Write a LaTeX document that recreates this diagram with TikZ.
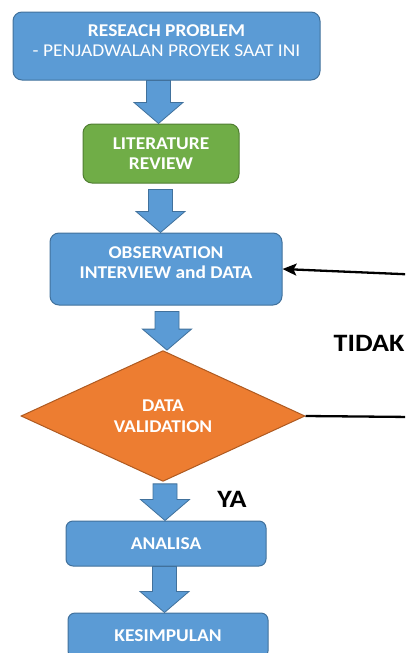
\documentclass[tikz,border=0pt]{standalone}
\usepackage{fontspec}
\setmainfont{Carlito}[FakeStretch=1.08]
\newfontfamily\lblfont{Carlito}[FakeStretch=1.12]
\usepackage{tikz}
\usetikzlibrary{shapes.geometric, arrows.meta, positioning, calc}
\definecolor{boxblue}{HTML}{5B9BD5}
\definecolor{boxblueline}{HTML}{41719C}
\definecolor{boxgreen}{HTML}{70AD47}
\definecolor{boxgreenline}{HTML}{507E32}
\definecolor{boxorange}{HTML}{ED7D31}
\definecolor{boxorangeline}{HTML}{AE5A21}

% block arrow: #1 = x centre, #2 = gap below source, #3 = source, #4 = target
\newcommand{\blockarrow}[4]{%
  \path[blockarr] let \p1=(#3.south), \p2=(#4.north) in
    (#1pt-12pt,\y1-#2pt) -- (#1pt+12pt,\y1-#2pt) -- (#1pt+12pt,\y2+21pt)
    -- (#1pt+24.5pt,\y2+21pt) -- (#1pt,\y2) -- (#1pt-24.5pt,\y2+21pt)
    -- (#1pt-12pt,\y2+21pt) -- cycle;}

\begin{document}
\begin{tikzpicture}[
  x=1pt, y=-1pt,
  box/.style={draw=boxblueline, fill=boxblue, line width=1pt, rounded corners=9pt,
              align=center, text=white, inner sep=0pt,
              font=\bfseries\fontsize{18}{20}\selectfont},
  litbox/.style={box, fill=boxgreen, draw=boxgreenline},
  decision/.style={diamond, draw=boxorangeline, fill=boxorange, line width=1pt,
              align=center, text=white, inner sep=0pt,
              font=\bfseries\fontsize{18}{20.5}\selectfont},
  blockarr/.style={fill=boxblue, draw=boxblueline, line width=0.8pt, line join=miter},
  lbl/.style={font=\lblfont\bfseries\fontsize{25}{27}\selectfont, inner sep=0pt},
  feedback/.style={-{Stealth[length=14pt,width=12pt,inset=3pt]}, line width=2.3pt, draw=black}
]
\useasboundingbox (0,0) rectangle (405,653);
\clip (0,0) rectangle (405,653);

\node[box, minimum width=307pt, minimum height=68pt, text depth=11pt] (problem) at (166.5,46)
  {RESEACH PROBLEM\\\mdseries - PENJADWALAN PROYEK SAAT INI};
\node[litbox, minimum width=156pt, minimum height=59pt] (literature) at (161,153.5)
  {LITERATURE\\REVIEW};
\node[box, minimum width=232pt, minimum height=72pt, text depth=13pt] (observation) at (166,269)
  {OBSERVATION\\INTERVIEW and DATA};
\node[decision, minimum width=284pt, minimum height=120pt] (validation) at (163,416)
  {DATA\\VALIDATION};
\node[box, rounded corners=7pt, minimum width=200pt, minimum height=45pt] (analisa) at (166,543.5)
  {ANALISA};
\node[box, rounded corners=7pt, minimum width=200pt, minimum height=45pt] (kesimpulan) at (168,635.5)
  {KESIMPULAN};

\node[lbl, anchor=east] (tidak) at (404.5,343) {TIDAK};
\node[lbl] (ya) at (232,499) {YA};

\blockarrow{158.5}{0}{problem}{literature}
\blockarrow{160.5}{6}{literature}{observation}
\blockarrow{167}{6}{observation}{validation}
\blockarrow{165}{2}{validation}{analisa}
\blockarrow{164.5}{0}{analisa}{kesimpulan}

% loop back when the data is not valid
\coordinate (backlow) at (412,417);
\coordinate (backtop) at (412,274.5);
\draw[feedback] (validation.east) -- (backlow) -- (backtop) -- (observation.east);
\end{tikzpicture}
\end{document}
